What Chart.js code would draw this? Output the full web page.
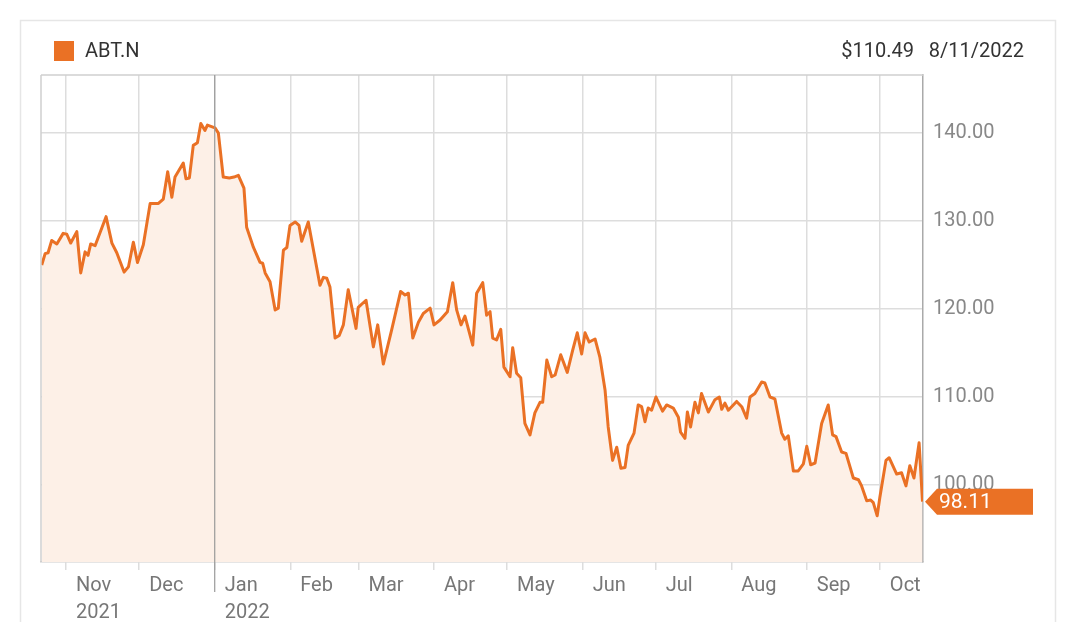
<!DOCTYPE html>
<html><head><meta charset="utf-8">
<script src="https://cdn.jsdelivr.net/npm/chart.js@4"></script>
<style>html,body{margin:0;padding:0;background:#fff;}#wrap{width:1080px;height:622px;position:relative;}</style>
</head><body><div id="wrap"><canvas id="c" width="1080" height="622"></canvas></div>
<script>
// days since 2021-11-01
const days = [-10.0,-8.6,-7.4,-5.9,-3.8,-1.2,0.3,1.9,4.4,6.0,7.8,9.0,10.1,11.9,16.4,18.8,20.8,23.8,25.6,27.6,29.3,31.7,34.5,37.9,39.9,41.7,43.4,44.7,48.1,49.2,50.6,52.2,53.9,55.3,57.0,58.0,61.1,62.5,64.5,67.0,68.9,70.7,73.0,74.1,76.9,79.6,80.7,81.7,83.7,85.8,87.1,89.2,90.6,91.9,94.0,95.6,96.7,99.4,104.2,105.6,107.0,108.3,110.4,112.1,113.8,115.8,119.0,119.9,123.1,126.1,127.9,130.2,133.6,137.3,139.1,140.5,142.3,144.6,146.6,149.4,151.0,153.5,156.5,158.7,160.3,162.1,163.7,166.9,168.5,171.0,172.6,174.0,175.1,176.7,178.4,179.7,182.2,183.3,184.9,186.6,188.3,190.4,192.4,194.5,195.6,197.3,199.3,200.7,203.0,205.7,207.9,209.8,211.6,213.0,214.7,217.1,219.1,221.2,222.5,224.3,226.0,227.7,229.4,230.7,233.1,234.8,236.2,237.6,238.9,240.3,242.1,244.8,246.5,249.2,251.3,252.2,254.0,255.0,256.3,258.1,259.5,260.8,263.6,266.3,268.1,269.1,270.4,271.8,275.2,277.3,279.3,280.7,282.7,285.5,286.8,288.9,290.9,293.7,295.0,296.4,298.5,300.5,302.6,304.0,305.6,307.4,310.1,312.8,314.6,316.0,318.3,320.1,323.1,325.2,326.5,328.6,330.2,331.3,332.9,334.0,336.5,337.8,340.9,342.9,344.7,346.3,348.0,350.1,351.5];
const prices = [125.0,126.3,126.4,127.8,127.4,128.6,128.5,127.5,128.8,124.1,126.5,126.1,127.4,127.2,130.5,127.5,126.4,124.2,124.8,127.6,125.3,127.3,132.0,132.0,132.5,135.6,132.7,135.0,136.6,134.8,134.9,138.6,138.9,141.1,140.3,140.9,140.6,140.0,135.0,134.9,135.0,135.2,133.75,129.3,127.0,125.3,125.2,124.1,123.1,119.9,120.1,126.7,127.0,129.5,129.9,129.5,127.7,129.9,122.7,123.6,123.5,122.5,116.7,117.0,118.2,122.2,117.8,120.2,121.0,115.7,118.2,113.75,117.6,122.0,121.6,121.8,116.7,118.5,119.5,120.1,118.2,118.75,119.7,123.0,119.9,118.2,119.2,115.9,121.8,123.0,119.3,119.7,116.7,116.5,117.7,113.4,112.3,115.6,112.7,112.2,107.0,105.7,108.2,109.4,109.4,114.2,112.3,112.5,114.8,112.8,115.3,117.3,114.9,117.3,116.25,116.6,114.5,110.8,106.6,102.8,104.3,101.9,102.0,104.5,105.9,109.1,108.9,107.2,108.75,108.5,110.0,108.4,109.1,108.75,107.7,106.0,105.3,108.3,106.6,109.4,108.2,110.4,108.3,109.7,110.0,108.6,109.3,108.5,109.5,108.9,107.6,110.0,110.4,111.7,111.6,110.0,109.8,105.9,105.2,105.6,101.6,101.6,102.4,104.4,102.3,102.5,107.0,109.1,105.7,105.5,103.75,103.6,100.8,100.6,99.9,98.2,98.3,98.0,96.5,98.6,102.8,103.1,101.25,101.4,99.9,102.2,100.8,104.8,98.11];
const monthDays = [0,30,61,92,120,151,181,212,242,273,304,334];
const monthLabels = [['Nov','2021'],'Dec',['Jan','2022'],'Feb','Mar','Apr','May','Jun','Jul','Aug','Sep','Oct'];
const yTicks = [100,110,120,130,140];
const ticker = 'ABT.N';
const headerRight = '$110.49   8/11/2022';
const lastLabel = '98.11';

const ORANGE = '#ea7125';
const FONT = 'Roboto, "Liberation Sans", sans-serif';

const deco = {
  id:'deco',
  beforeDraw(chart){
    const ctx=chart.ctx, a=chart.chartArea;
    ctx.save();
    ctx.strokeStyle='#e6e6e6'; ctx.lineWidth=1.5;
    ctx.strokeRect(20.5,20.5,1035,640);
    ctx.restore();
  },
  afterDraw(chart){
    const ctx=chart.ctx, a=chart.chartArea, x=chart.scales.x, y=chart.scales.y;
    ctx.save();
    ctx.strokeStyle='#d0d0d0'; ctx.lineWidth=1.5;
    ctx.beginPath(); ctx.moveTo(a.left,a.top); ctx.lineTo(a.left,a.bottom);
    ctx.moveTo(a.left,a.top); ctx.lineTo(a.right,a.top); ctx.stroke();
    // separator line at year change
    const jx=x.getPixelForValue(monthDays[2]);
    ctx.strokeStyle='#9a9a9a'; ctx.lineWidth=1.2;
    ctx.beginPath(); ctx.moveTo(jx,a.top); ctx.lineTo(jx,592); ctx.stroke();
    // header
    ctx.fillStyle=ORANGE; ctx.fillRect(54,41,20,20);
    ctx.font='20px '+FONT; ctx.fillStyle='#333'; ctx.textBaseline='middle';
    ctx.textAlign='left'; ctx.fillText(ticker,85,52);
    ctx.textAlign='right'; ctx.fillText(headerRight,1024,52);
    // last value badge
    const py=y.getPixelForValue(prices[prices.length-1]);
    ctx.fillStyle=ORANGE;
    ctx.beginPath(); ctx.moveTo(925,py); ctx.lineTo(937,py-13); ctx.lineTo(1033,py-13);
    ctx.lineTo(1033,py+13); ctx.lineTo(937,py+13); ctx.closePath(); ctx.fill();
    ctx.fillStyle='#fff'; ctx.textAlign='left'; ctx.font='21px '+FONT;
    ctx.fillText(lastLabel,939,py+1);
    ctx.restore();
  }
};

new Chart(document.getElementById('c'),{
  type:'line',
  data:{datasets:[{
    data:days.map((d,i)=>({x:d,y:prices[i]})),
    borderColor:ORANGE, borderWidth:3, backgroundColor:'#fdf0e7', fill:'start',
    pointRadius:0, tension:0, borderJoinStyle:'round'
  }]},
  options:{
    responsive:false, animation:false,
    layout:{padding:{left:41,top:75,right:0,bottom:0}},
    plugins:{legend:{display:false},tooltip:{enabled:false}},
    scales:{
      x:{type:'linear',min:-10.3,max:351.7,
        afterBuildTicks(s){s.ticks=monthDays.map(v=>({value:v}));},
        afterFit(s){s.height=60;},
        grid:{color:'#dddddd',lineWidth:1.5,drawTicks:true,tickLength:8},
        border:{color:'#cccccc',width:1.5},
        ticks:{autoSkip:false,maxRotation:0,align:'start',labelOffset:10,padding:2,color:'#777',
          font:{family:FONT,size:20,lineHeight:1.35},
          callback(v){const i=monthDays.indexOf(v);return i>=0?monthLabels[i]:'';}}
      },
      y:{position:'right',min:91.25,max:146.6,
        afterBuildTicks(s){s.ticks=yTicks.map(v=>({value:v}));},
        afterFit(s){s.width=157;},
        grid:{color:'#dddddd',lineWidth:1.5,drawTicks:false},
        border:{color:'#aaaaaa',width:1.5},
        ticks:{padding:10,color:'#888',font:{family:FONT,size:20},callback:v=>v.toFixed(2)}
      }
    }
  },
  plugins:[deco]
});
</script></body></html>
